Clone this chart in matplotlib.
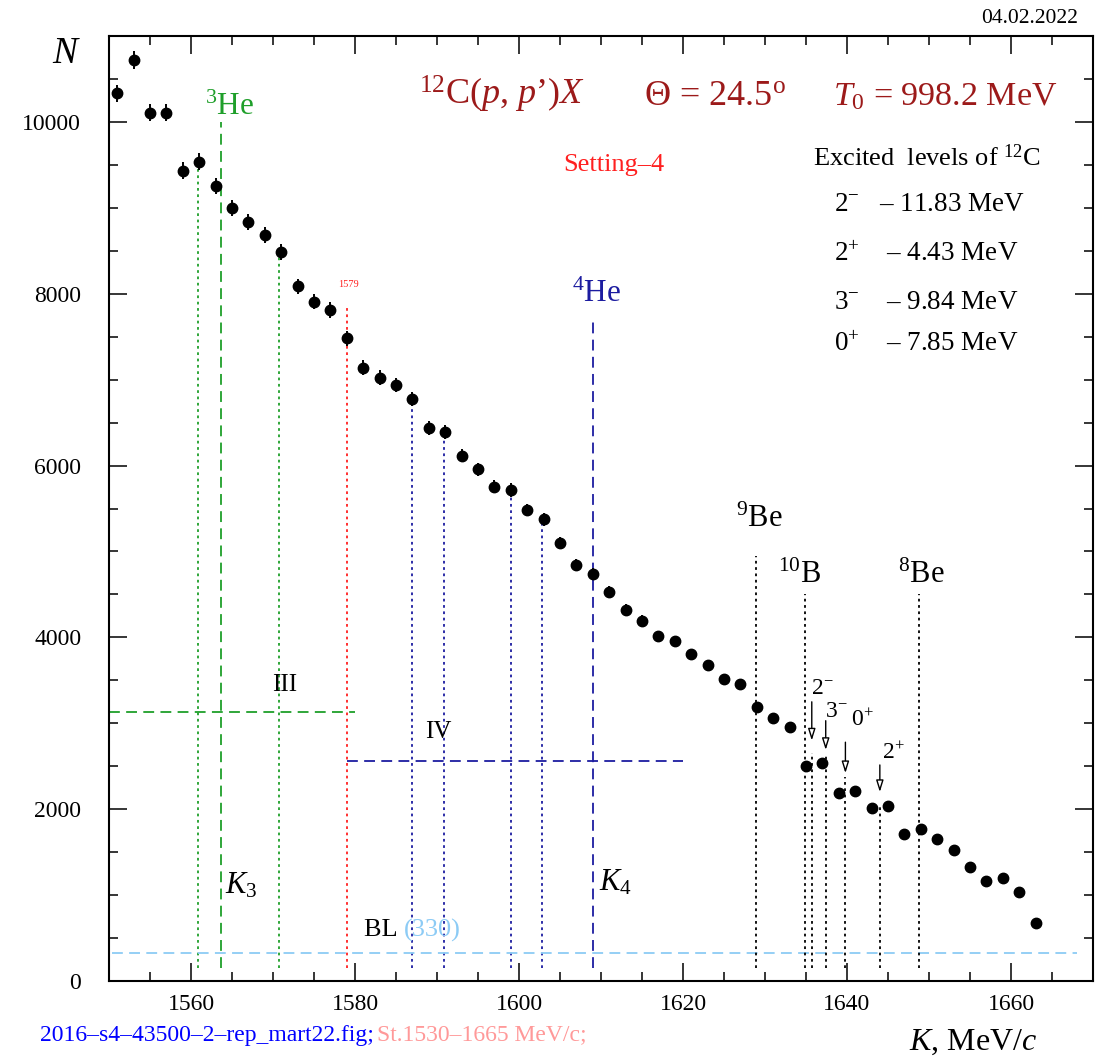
import numpy as np
import matplotlib
matplotlib.use("Agg")
from matplotlib import pyplot as plt
from matplotlib.ticker import MultipleLocator

plt.rcParams['font.family'] = ['Liberation Serif', 'DejaVu Serif']
plt.rcParams['mathtext.fontset'] = 'custom'
plt.rcParams['mathtext.rm'] = 'Liberation Serif'
plt.rcParams['mathtext.it'] = 'Liberation Serif:italic'
plt.rcParams['mathtext.bf'] = 'Liberation Serif:bold'

# spectrum, K in MeV/c
momentum = [1551, 1553, 1555, 1557, 1559, 1561, 1563, 1565, 1567, 1569,
            1571, 1573, 1575, 1577, 1579, 1581, 1583, 1585, 1587, 1589,
            1591, 1593, 1595, 1597, 1599, 1601, 1603, 1605, 1607, 1609,
            1611, 1613, 1615, 1617, 1619, 1621, 1623, 1625, 1627, 1629,
            1631, 1633, 1635, 1637, 1639, 1641, 1643, 1645, 1647, 1649,
            1651, 1653, 1655, 1657, 1659, 1661, 1663]
counts = [10334, 10722, 10108, 10108, 9433, 9538, 9255, 9002, 8839, 8685,
          8483, 8085, 7910, 7811, 7482, 7140, 7024, 6938, 6775, 6434,
          6388, 6116, 5957, 5755, 5716, 5483, 5375, 5099, 4843, 4738,
          4529, 4319, 4191, 4016, 3958, 3807, 3675, 3516, 3455, 3193,
          3065, 2960, 2506, 2541, 2192, 2215, 2010, 2037, 1715, 1765,
          1655, 1530, 1330, 1165, 1195, 1035, 680]
errors = [102, 104, 101, 101, 97, 98, 96, 95, 94, 93,
          92, 90, 89, 88, 86, 84, 84, 83, 82, 80,
          80, 78, 77, 76, 76, 74, 73, 71, 70, 69,
          67, 66, 65, 63, 63, 62, 61, 59, 59, 57,
          55, 54, 50, 50, 47, 47, 45, 45, 41, 42,
          41, 39, 36, 34, 35, 32, 26]

# region III (3He) and IV (4He) markers
green_dotted_x = [1560.8, 1570.7]
green_dotted_top = [9500, 8475]
green_dashed_x = [1563.6]
green_dashed_top = [10000]
red_x = [1579.0]
red_top = [7870]
blue_dotted_x = [1586.9, 1590.9, 1599.0, 1602.8]
blue_dotted_top = [6780, 6390, 5716, 5370]
blue_dashed_x = [1609.0]
blue_dashed_top = [7700]
level_III = 3135
level_IV = 2560
baseline = 330

# black lines: 9Be, 10B, 8Be and excited levels of 12C
nucl_x = [1628.9, 1634.9, 1648.8]
nucl_top = [4950, 4500, 4500]
exc_x = [1635.7, 1637.4, 1639.8, 1644.0]
exc_top = [2650, 2640, 2370, 2020]
exc_labels = ['$2^{-}$', '$3^{-}$', '$0^{+}$', '$2^{+}$']
arrow_from = [3250, 3030, 2780, 2515]
arrow_to = [2800, 2690, 2420, 2200]

dark_red = '#9c1a1a'
green = '#1f9f2a'
blue = '#1c1ca0'
light_blue = '#8ccbf5'

fig = plt.figure(figsize=(10.96, 10.61), dpi=100)
ax = fig.add_axes([0.0995, 0.0754, 0.8978, 0.8906])

dot = (0, (1.5, 2.0))
dash = (0, (6, 3.5))
lw = 1.3
bottom = 150

ax.vlines(green_dotted_x, bottom, green_dotted_top, colors=green, linestyles=[dot], lw=lw)
ax.vlines(green_dashed_x, bottom, green_dashed_top, colors=green, linestyles=[dash], lw=lw)
ax.vlines(red_x, bottom, red_top, colors='#ff2020', linestyles=[dot], lw=lw)
ax.vlines(blue_dotted_x, bottom, blue_dotted_top, colors=blue, linestyles=[dot], lw=lw)
ax.vlines(blue_dashed_x, bottom, blue_dashed_top, colors=blue, linestyles=[dash], lw=lw)
ax.hlines(level_III, 1550, 1580, colors=green, linestyles=[dash], lw=lw)
ax.hlines(level_IV, 1579, 1620, colors=blue, linestyles=[dash], lw=lw)
ax.hlines(baseline, 1550.3, 1668, colors=light_blue, linestyles=[dash], lw=lw)
ax.vlines(nucl_x, bottom, nucl_top, colors='k', linestyles=[dot], lw=lw)
ax.vlines(exc_x, bottom, exc_top, colors='k', linestyles=[dot], lw=lw)

ax.errorbar(momentum, counts, yerr=errors, fmt='o', color='k', ms=7.5,
            elinewidth=1.4, capsize=0, zorder=5)

for x, lab, y0, y1 in zip(exc_x, exc_labels, arrow_from, arrow_to):
    ax.annotate('', xy=(x, y1), xytext=(x, y0),
                arrowprops=dict(arrowstyle='-|>,head_length=0.7,head_width=0.22',
                                fc='white', ec='k', lw=1.0, shrinkA=0, shrinkB=0))
exc_text_pos = [(1635.6, 3400), (1637.3, 3135), (1640.5, 3030), (1644.3, 2655)]
for (tx, ty), lab in zip(exc_text_pos, exc_labels):
    ax.text(tx, ty, lab, fontsize=17, ha='left', va='center')

ax.set_xlim(1550, 1670)
ax.set_ylim(0, 11000)
ax.xaxis.set_major_locator(MultipleLocator(20))
ax.xaxis.set_minor_locator(MultipleLocator(5))
ax.yaxis.set_major_locator(MultipleLocator(2000))
ax.yaxis.set_minor_locator(MultipleLocator(500))
ax.tick_params(which='both', direction='in', top=True, right=True, width=1.1,
               labelsize=17)
ax.tick_params(which='major', length=13)
ax.tick_params(which='minor', length=6.5)
ax.tick_params(axis='x', pad=9)
ax.tick_params(axis='y', pad=20)
for s in ax.spines.values():
    s.set_linewidth(1.5)

# annotations
ax.text(1587.8, 10200, r"$^{12}$C($p$, $p$’)$X$", color=dark_red, fontsize=26, va='baseline')
ax.text(1615.2, 10200, r"Θ = 24.5$^{\rm o}$", color=dark_red, fontsize=26, va='baseline')
ax.text(1638.3, 10200, r"$T_{\rm 0}$ = 998.2 MeV", color=dark_red, fontsize=24.5, va='baseline')
ax.text(1611.5, 9500, "Setting–4", color='#ff2020', fontsize=19, ha='center', va='center')
ax.text(1635.8, 9590, r"Excited  levels of $^{12}$C", fontsize=19, va='center')
ax.text(1638.4, 9034, r"$2^{-}$   – 11.83 MeV", fontsize=19.5, va='center')
ax.text(1638.4, 8452, r"$2^{+}$    – 4.43 MeV", fontsize=19.5, va='center')
ax.text(1638.4, 7893, r"$3^{-}$    – 9.84 MeV", fontsize=19.5, va='center')
ax.text(1638.4, 7404, r"$0^{+}$    – 7.85 MeV", fontsize=19.5, va='center')

ax.text(1561.7, 10080, r"$^{3}$He", color=green, fontsize=22.5, va='baseline')
ax.text(1606.5, 7900, r"$^{4}$He", color=blue, fontsize=22.5, va='baseline')
ax.text(1579.2, 8110, "1579", color='#ff2020', fontsize=7.5, ha='center', va='center')
ax.text(1626.4, 5285, r"$^{9}$Be", fontsize=22, va='baseline')
ax.text(1631.6, 4633, r"$^{10}$B", fontsize=22, va='baseline')
ax.text(1646.2, 4633, r"$^{8}$Be", fontsize=22, va='baseline')
ax.text(1571.4, 3446, "III", fontsize=18, ha='center', va='center')
ax.text(1590.2, 2899, "IV", fontsize=18, ha='center', va='center')
ax.text(1564.1, 1024, r"$K_{\rm 3}$", fontsize=22, va='baseline')
ax.text(1609.7, 1059, r"$K_{\rm 4}$", fontsize=22, va='baseline')
ax.text(1581.1, 594, "BL ", fontsize=19, va='center')
ax.text(1586.0, 594, "(330)", fontsize=19, color=light_blue, va='center')

fig.text(0.061, 0.949, r"$N$", fontsize=27, ha='center', va='center')
fig.text(0.946, 0.0104, r"$K$, MeV/$c$", fontsize=23, ha='right', va='baseline')
fig.text(0.9836, 0.983, "04.02.2022", fontsize=15.5, ha='right', va='center')

foot = fig.text(0.0365, 0.0245, "2016–s4–43500–2–rep_mart22.fig;", fontsize=17,
                color='#0000ff', ha='left', va='center')
fig.canvas.draw()
bb = foot.get_window_extent().transformed(fig.transFigure.inverted())
fig.text(bb.x1 + 0.003, 0.0245, "St.1530–1665 MeV/c;", fontsize=17,
         color='#ff9999', ha='left', va='center')

fig.savefig('out.png', dpi=100)
